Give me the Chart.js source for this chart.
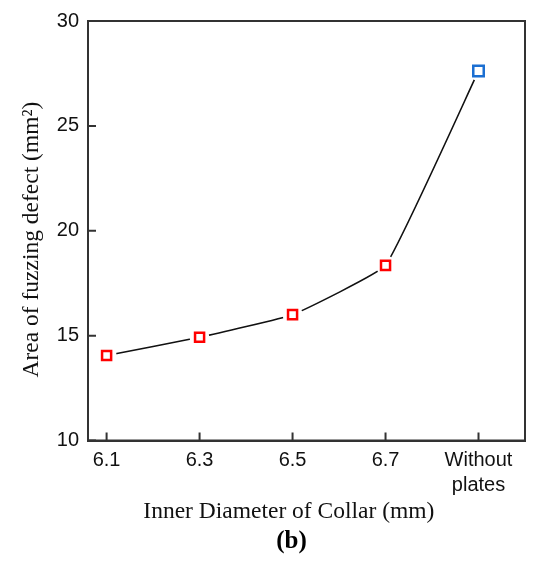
<!DOCTYPE html>
<html>
<head>
<meta charset="utf-8">
<script src="https://cdn.jsdelivr.net/npm/chart.js@4.4.1/dist/chart.umd.min.js"></script>
<style>
  html, body { margin: 0; padding: 0; background: #fff; }
  #wrap { width: 548px; height: 561px; }
</style>
</head>
<body>
<div id="wrap"><canvas id="chart" width="548" height="561"></canvas></div>
<script>
// categories on the x axis (drawn at positions 0..4)
const xLabels = ["6.1", "6.3", "6.5", "6.7", ["Without", "plates"]];
// area of fuzzing defect, mm^2
const areaValues = [14.05, 14.92, 16.0, 18.35, 27.62];
const yTicks = [10, 15, 20, 25, 30];

const axisColor = "#333333";
const serif = "'Liberation Serif', 'Times New Roman', serif";
const sans = "'Liberation Sans', Arial, sans-serif";
const nb = "\u00a0";

// last point (without plates) is blue and a bit bigger, the others red
const lastIdx = areaValues.length - 1;
const markerColors = areaValues.map((v, i) => (i === lastIdx ? "#1b6fd2" : "#ff0000"));
const markerRadius = areaValues.map((v, i) => (i === lastIdx ? 7.4 : 6.4));

// frame round the plot area + tick marks pointing inward
const framePlugin = {
  id: "frame",
  afterDraw(chart) {
    const { ctx, chartArea } = chart;
    const xs = chart.scales.x;
    const ys = chart.scales.y;
    ctx.save();
    ctx.strokeStyle = axisColor;
    ctx.lineWidth = 2;
    ctx.strokeRect(chartArea.left, chartArea.top, chartArea.right - chartArea.left, chartArea.bottom - chartArea.top);
    ctx.beginPath();
    xs.ticks.forEach((t) => {
      const px = xs.getPixelForValue(t.value);
      ctx.moveTo(px, chartArea.bottom);
      ctx.lineTo(px, chartArea.bottom - 8);
    });
    ys.ticks.forEach((t) => {
      const py = ys.getPixelForValue(t.value);
      ctx.moveTo(chartArea.left, py);
      ctx.lineTo(chartArea.left + 8, py);
    });
    ctx.stroke();
    ctx.restore();
  },
};

const points = areaValues.map((v, i) => ({ x: i, y: v }));

const ctx = document.getElementById("chart").getContext("2d");
new Chart(ctx, {
  type: "line",
  data: {
    datasets: [
      {
        // markers
        data: points,
        showLine: false,
        pointStyle: "rect",
        pointRadius: markerRadius,
        pointBorderWidth: 2.5,
        pointBorderColor: markerColors,
        pointBackgroundColor: "#ffffff",
        order: 1,
      },
      {
        // white halo so the line stops short of the markers
        data: points,
        showLine: false,
        pointStyle: "circle",
        pointRadius: 10,
        pointBorderWidth: 0,
        pointBackgroundColor: "#ffffff",
        order: 2,
      },
      {
        // connecting line
        data: points,
        borderColor: "#111111",
        borderWidth: 1.6,
        pointRadius: 0,
        tension: 0.1,
        order: 3,
      },
    ],
  },
  options: {
    responsive: false,
    animation: false,
    layout: { padding: { left: 8, right: 23, top: 5, bottom: 2 } },
    plugins: {
      legend: { display: false },
      tooltip: { enabled: false },
      title: {
        display: true,
        position: "bottom",
        text: nb.repeat(8) + "(b)",
        color: "#000",
        font: { family: serif, size: 25, weight: "bold", lineHeight: 1.2 },
        padding: { top: 3.5, bottom: 2 },
      },
    },
    scales: {
      x: {
        type: "linear",
        min: -0.2,
        max: 4.5,
        afterBuildTicks(scale) {
          scale.ticks = xLabels.map((l, i) => ({ value: i }));
        },
        ticks: {
          callback: (v) => xLabels[v],
          color: "#111",
          font: { family: sans, size: 20, lineHeight: 1.25 },
          padding: 7,
          maxRotation: 0,
          autoSkip: false,
        },
        grid: { drawOnChartArea: false, drawTicks: false },
        border: { color: axisColor, width: 2 },
        title: {
          display: true,
          text: "Inner Diameter of Collar (mm)" + nb.repeat(6),
          color: "#111",
          font: { family: serif, size: 23.5, lineHeight: 1 },
          padding: { top: -4.5, bottom: 0 },
        },
      },
      y: {
        min: 10,
        max: 30,
        afterBuildTicks(scale) {
          scale.ticks = yTicks.map((v) => ({ value: v }));
        },
        afterFit(scale) {
          scale.width = 80;
        },
        ticks: {
          color: "#111",
          font: { family: sans, size: 20 },
          padding: 9,
        },
        grid: { drawOnChartArea: false, drawTicks: false },
        border: { color: axisColor, width: 2 },
        title: {
          display: true,
          text: "Area of fuzzing defect (mm\u00b2)" + nb.repeat(3),
          color: "#111",
          font: { family: serif, size: 23.5 },
          padding: { top: 10, bottom: 4 },
        },
      },
    },
  },
  plugins: [framePlugin],
});
</script>
</body>
</html>
